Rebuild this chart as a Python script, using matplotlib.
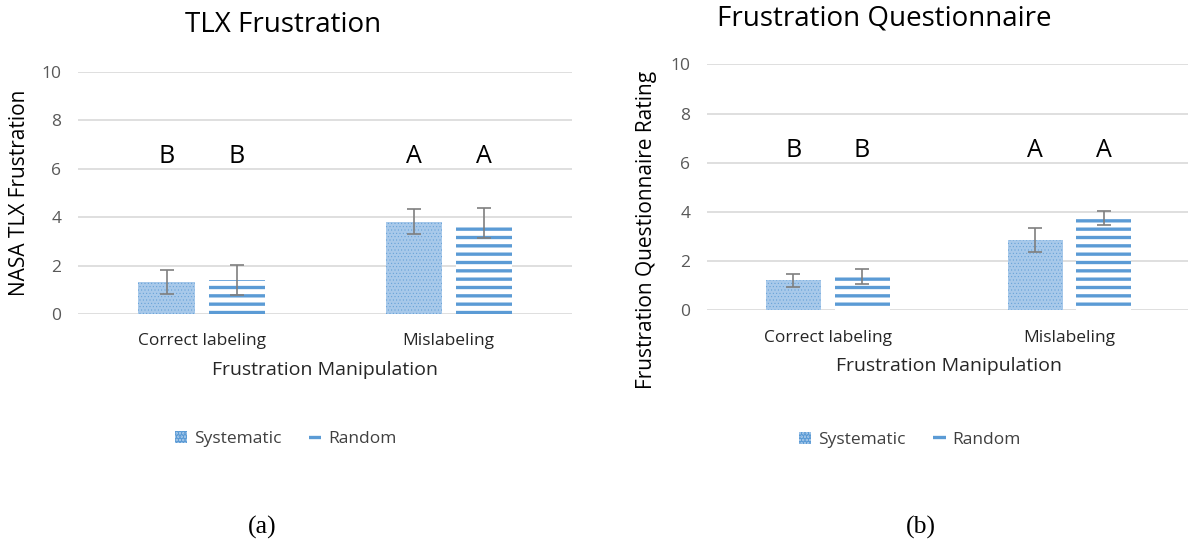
import numpy as np
import matplotlib.pyplot as plt

plt.rcParams['font.family'] = ['Open Sans', 'DejaVu Sans']
plt.rcParams['hatch.linewidth'] = 2.4

categories = ['Correct labeling', 'Mislabeling']
series = ['Systematic', 'Random']

tlx_sys = [1.32, 3.82]
tlx_sys_err = [0.5, 0.52]
tlx_rnd = [1.42, 3.78]
tlx_rnd_err = [0.62, 0.62]
tlx_letters = [['B', 'A'], ['B', 'A']]

fq_sys = [1.22, 2.85]
fq_sys_err = [0.27, 0.48]
fq_rnd = [1.37, 3.75]
fq_rnd_err = [0.32, 0.3]
fq_letters = [['B', 'A'], ['B', 'A']]

blue = '#5B9BD5'
grid = '#D9D9D9'
tick_col = '#595959'


def panel(ax, sys_v, sys_e, rnd_v, rnd_e, letters, title, ylabel,
          title_xy, ylabel_xy, leg_y):
    x = np.arange(len(categories))
    w = 0.227
    off = 0.142
    b1 = ax.bar(x - off, sys_v, w, color='#A8C9EA', edgecolor=blue, hatch='.....',
                linewidth=0, label=series[0], zorder=2)
    ax.bar(x + off, rnd_v, w, color='white', edgecolor=blue, hatch='--',
           linewidth=0, label=series[1], zorder=2)
    for p in b1:
        if hasattr(p, 'set_hatch_linewidth'):
            p.set_hatch_linewidth(0.3)
    ax.errorbar(x - off, sys_v, yerr=sys_e, fmt='none', ecolor='#7F7F7F',
                elinewidth=1.2, capsize=5, capthick=1.2, zorder=3)
    ax.errorbar(x + off, rnd_v, yerr=rnd_e, fmt='none', ecolor='#7F7F7F',
                elinewidth=1.2, capsize=5, capthick=1.2, zorder=3)
    for i in range(len(categories)):
        ax.text(x[i] - off, 6.5, letters[0][i], ha='center', va='center', fontsize=18)
        ax.text(x[i] + off, 6.5, letters[1][i], ha='center', va='center', fontsize=18)
    ax.set_xlim(-0.5, 1.5)
    ax.set_ylim(0, 10)
    ax.set_yticks(range(0, 11, 2))
    ax.set_xticks(x)
    ax.set_xticklabels(categories, fontsize=12.5)
    ax.tick_params(axis='y', labelsize=12.5, colors=tick_col, length=0, pad=12)
    ax.tick_params(axis='x', length=0, pad=14, labelcolor='#262626')
    ax.yaxis.grid(True, color=grid, linewidth=1.2, zorder=0)
    ax.set_axisbelow(True)
    for s in ax.spines.values():
        s.set_visible(False)
    ax.set_xlabel('Frustration Manipulation', fontsize=14, labelpad=8, color='#262626')
    ax.set_ylabel(ylabel, fontsize=15)
    ax.yaxis.set_label_coords(*ylabel_xy)
    ax.text(title_xy[0], title_xy[1], title, transform=ax.transAxes,
            ha='center', va='center', fontsize=20)
    ax.legend(loc='upper center', bbox_to_anchor=(0.42, leg_y), ncol=2,
              frameon=False, fontsize=12.5, handlelength=0.7, handleheight=0.7,
              columnspacing=1.6, handletextpad=0.4, labelcolor='#404040')


fig = plt.figure(figsize=(11.88, 5.5), dpi=100)
ax1 = fig.add_axes([0.0657, 0.429, 0.416, 0.44])
ax2 = fig.add_axes([0.595, 0.436, 0.407, 0.447])

panel(ax1, tlx_sys, tlx_sys_err, tlx_rnd, tlx_rnd_err, tlx_letters,
      'TLX Frustration', 'NASA TLX Frustration', (0.415, 1.194),
      (-0.097, 0.5), -0.42)
panel(ax2, fq_sys, fq_sys_err, fq_rnd, fq_rnd_err, fq_letters,
      'Frustration Questionnaire', 'Frustration Questionnaire Rating',
      (0.366, 1.187), (-0.103, 0.325), -0.433)

fig.text(262 / 1188, 1 - 527 / 550, '(a)', ha='center', va='center',
         fontsize=18.5, family='Liberation Serif')
fig.text(921 / 1188, 1 - 527 / 550, '(b)', ha='center', va='center',
         fontsize=18.5, family='Liberation Serif')

fig.savefig('out.png', dpi=100)
